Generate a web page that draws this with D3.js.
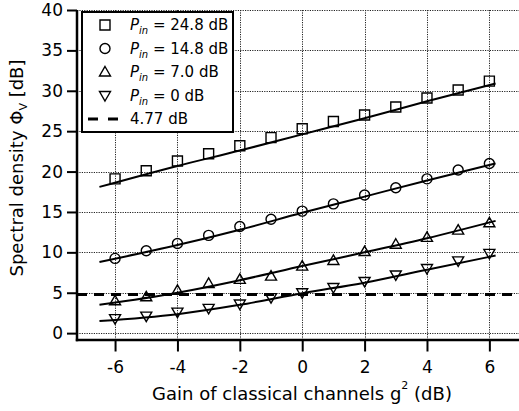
<!DOCTYPE html>
<html>
<head>
<meta charset="utf-8">
<script src="https://cdn.jsdelivr.net/npm/d3@7"></script>
<style>
  html, body { margin: 0; padding: 0; background: #fff; }
  svg { display: block; font-family: "DejaVu Sans", sans-serif; }
</style>
</head>
<body>
<svg id="chart" width="519" height="411"></svg>
<script>
// ---- data ----
const gains = [-6, -5, -4, -3, -2, -1, 0, 1, 2, 3, 4, 5, 6];
const pin248 = [19.1, 20.1, 21.3, 22.2, 23.2, 24.2, 25.3, 26.2, 27.0, 28.0, 29.1, 30.1, 31.2];
const pin148 = [9.25, 10.2, 11.1, 12.1, 13.2, 14.1, 15.1, 16.0, 17.1, 18.0, 19.1, 20.2, 21.0];
const pin70  = [4.0, 4.5, 5.3, 6.15, 6.65, 7.06, 8.3, 9.0, 10.1, 11.0, 11.85, 12.75, 13.66];
const pin0   = [1.8, 2.1, 2.6, 3.06, 3.6, 4.4, 5.0, 5.65, 6.4, 7.2, 8.0, 8.95, 9.87];

const fitGains = [-6.5, -4, -2, 0, 2, 4, 6.2];
const fit248 = [18.1, 20.7, 22.6, 24.6, 26.6, 28.7, 30.9];
const fit148 = [8.8, 10.9, 12.8, 14.9, 16.9, 18.9, 21.0];
const fit70  = [3.5, 5.0, 6.55, 8.3, 10.0, 11.75, 13.9];
const fit0   = [1.5, 2.35, 3.5, 4.95, 6.25, 7.85, 9.6];

const limitValue = 4.77;
const xTicks = [-6, -4, -2, 0, 2, 4, 6];
const yTicks = [0, 5, 10, 15, 20, 25, 30, 35, 40];
const legendLabels = ["24.8 dB", "14.8 dB", "7.0 dB", "0 dB"];
const legendLimitLabel = "4.77 dB";

(function () {
// ---- layout ----
const svg = d3.select("#chart");
const pLeft = 77, pRight = 519, pTop = 10, pBottom = 340;
const x = d3.scaleLinear().domain([-7.22, 6.95]).range([pLeft, pRight]);
const y = d3.scaleLinear().domain([-0.85, 40]).range([pBottom, pTop]);

// grid
const grid = svg.append("g").attr("stroke", "#222").attr("stroke-width", 1)
  .attr("stroke-dasharray", "1.2,1.2");
grid.selectAll("line.h").data(yTicks).join("line").attr("class", "h")
  .attr("x1", pLeft).attr("x2", pRight)
  .attr("y1", d => Math.round(y(d)) + 0.5).attr("y2", d => Math.round(y(d)) + 0.5);
grid.selectAll("line.v").data(xTicks).join("line").attr("class", "v")
  .attr("y1", pTop).attr("y2", pBottom)
  .attr("x1", d => Math.round(x(d)) + 0.5).attr("x2", d => Math.round(x(d)) + 0.5);

// limit dashed line
svg.append("line")
  .attr("x1", pLeft).attr("x2", pRight)
  .attr("y1", y(limitValue)).attr("y2", y(limitValue))
  .attr("stroke", "#000").attr("stroke-width", 3)
  .attr("stroke-dasharray", "10,7");

// fit curves
const line = d3.line().x(d => x(d[0])).y(d => y(d[1])).curve(d3.curveMonotoneX);
[fit248, fit148, fit70, fit0].forEach(vals => {
  svg.append("path")
    .attr("d", line(fitGains.map((g, i) => [g, vals[i]])))
    .attr("fill", "none").attr("stroke", "#000").attr("stroke-width", 2);
});

// markers
function marker(sel, type) {
  const s = 5;
  let d;
  if (type === "square") d = `M${-s},${-s}H${s}V${s}H${-s}Z`;
  else if (type === "circle") d = `M${s},0A${s},${s} 0 1,1 ${-s},0A${s},${s} 0 1,1 ${s},0Z`;
  else if (type === "up") d = `M0,${-5.5}L${5.5},${4}L${-5.5},${4}Z`;
  else d = `M0,${5.5}L${5.5},${-4}L${-5.5},${-4}Z`;
  sel.append("path").attr("d", d)
    .attr("fill", "none").attr("stroke", "#000").attr("stroke-width", 1.4);
}
const seriesDefs = [[pin248, "square"], [pin148, "circle"], [pin70, "up"], [pin0, "down"]];
seriesDefs.forEach(([vals, type]) => {
  const g = svg.append("g");
  g.selectAll("g").data(gains.map((gv, i) => [gv, vals[i]])).join("g")
    .attr("transform", d => `translate(${x(d[0])},${y(d[1])})`)
    .each(function () { marker(d3.select(this), type); });
});

// axes
const fmt = d => String(d);
const yAxis = svg.append("g").attr("transform", `translate(${pLeft},0)`)
  .call(d3.axisLeft(y).tickValues(yTicks).tickFormat(fmt).tickSize(10).tickPadding(4).tickSizeOuter(0));
yAxis.select(".domain").remove();
yAxis.selectAll(".tick line").attr("stroke-width", 2);
yAxis.selectAll("text").attr("font-size", 17).attr("font-family", "DejaVu Sans").attr("fill", "#000");
svg.append("line").attr("x1", pLeft).attr("x2", pLeft).attr("y1", pTop).attr("y2", pBottom + 1.2)
  .attr("stroke", "#000").attr("stroke-width", 2.5);

const xAxis = svg.append("g").attr("transform", `translate(0,${pBottom})`)
  .call(d3.axisBottom(x).tickValues(xTicks).tickFormat(fmt).tickSize(11.5).tickPadding(9).tickSizeOuter(0));
xAxis.select(".domain").remove();
xAxis.selectAll(".tick line").attr("stroke-width", 2);
xAxis.selectAll("text").attr("font-size", 17).attr("font-family", "DejaVu Sans").attr("fill", "#000");
svg.append("line").attr("x1", pLeft - 1.2).attr("x2", pRight).attr("y1", pBottom).attr("y2", pBottom)
  .attr("stroke", "#000").attr("stroke-width", 2.5);

// axis titles
const xt = svg.append("text").attr("x", 302).attr("y", 399.5).attr("text-anchor", "middle")
  .attr("font-size", 18).attr("fill", "#000");
xt.append("tspan").text("Gain of classical channels g");
xt.append("tspan").attr("font-size", 11).attr("dy", -11).text("2");
xt.append("tspan").attr("dy", 11).text(" (dB)");

const yt = svg.append("text").attr("transform", "translate(23,168) rotate(-90)")
  .attr("text-anchor", "middle").attr("font-size", 18).attr("fill", "#000");
yt.append("tspan").text("Spectral density \u03A6");
yt.append("tspan").attr("font-size", 11).attr("dy", 4).text("V");
yt.append("tspan").attr("dy", -4).text(" [dB]");

// legend
const lg = svg.append("g");
lg.append("rect").attr("x", 82).attr("y", 12).attr("width", 151).attr("height", 120)
  .attr("fill", "#fff").attr("stroke", "#000").attr("stroke-width", 2);
const types = ["square", "circle", "up", "down"];
legendLabels.forEach((lab, i) => {
  const base = 30 + 23.5 * i;
  const mg = lg.append("g").attr("transform", `translate(105,${base - 5})`);
  marker(mg, types[i]);
  const t = lg.append("text").attr("x", 130).attr("y", base).attr("font-size", 15).attr("fill", "#000");
  t.append("tspan").attr("font-style", "italic").text("P");
  t.append("tspan").attr("font-style", "italic").attr("font-size", 10).attr("dy", 4).text("in");
  t.append("tspan").attr("dy", -4).text(" = " + lab);
});
const lb = 30 + 23.5 * 4;
lg.append("line").attr("x1", 88).attr("x2", 118).attr("y1", lb - 5).attr("y2", lb - 5)
  .attr("stroke", "#000").attr("stroke-width", 3).attr("stroke-dasharray", "10,10");
lg.append("text").attr("x", 130).attr("y", lb).attr("font-size", 15).attr("fill", "#000")
  .text(legendLimitLabel);
})();
</script>
</body>
</html>
